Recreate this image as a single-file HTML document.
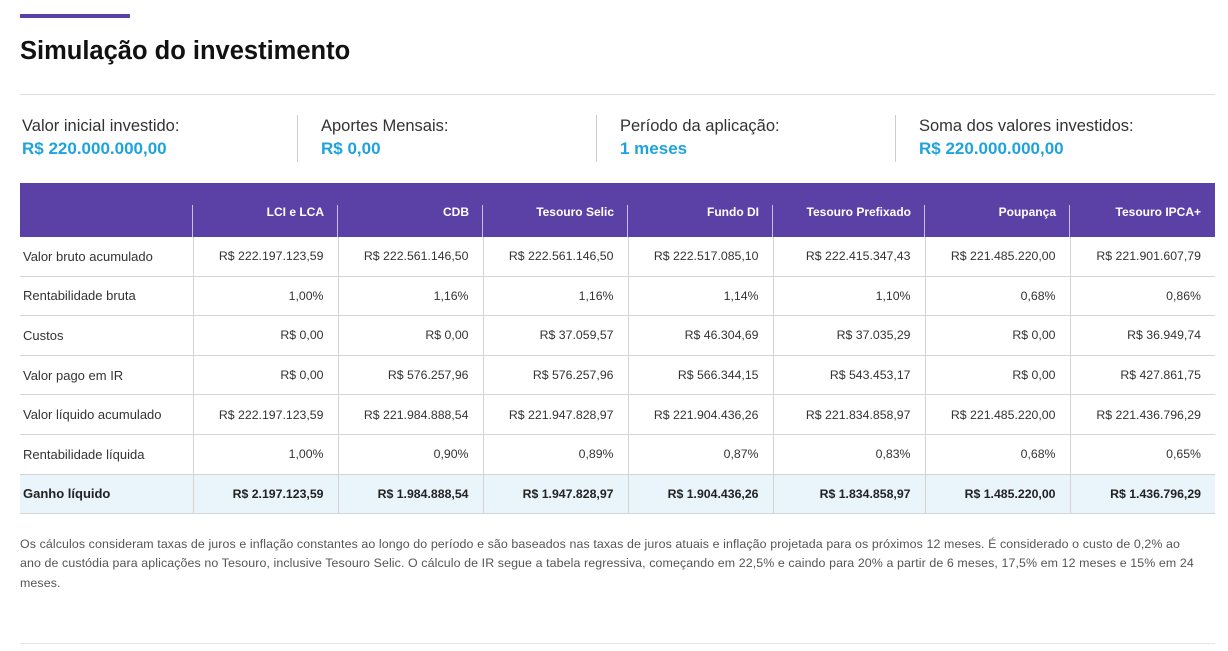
<!DOCTYPE html>
<html><head><meta charset="utf-8"><style>
body{margin:0;width:1228px;height:651px;background:#fff;font-family:"Liberation Sans",sans-serif;position:relative;overflow:hidden;color:#222}
.abs{position:absolute}
table{position:absolute;left:20px;top:183px;border-collapse:collapse;table-layout:fixed;width:1195px}
th{background:#5b41a6;color:#fff;font-size:12px;font-weight:bold;text-align:right;padding:4px 14px 0 0;height:50px;position:relative}
th .sep{position:absolute;left:-1px;top:22px;bottom:0;width:1px;background:#c9bfe6}
th:first-child .sep{display:none}
td{font-size:12.3px;text-align:right;padding:0 14px 0 0;border-bottom:1px solid #d4d4d4;border-left:1px solid #d4d4d4;color:#333;height:38.6px}
td:first-child{text-align:left;border-left:none;padding-left:3px;font-size:13px}
tr.last td{background:#eaf5fb;font-weight:bold;color:#222}
.lbl{font-size:16.5px;color:#333}
.val{font-size:17px;font-weight:bold;color:#1fa3dc;margin-top:3px}
.box{position:absolute;top:117px}
.vs{position:absolute;top:115px;width:1px;height:47px;background:#ccc}
</style></head><body>
<div class="abs" style="left:20px;top:14px;width:110px;height:4px;background:#5b41a6"></div>
<div class="abs" style="left:20px;top:37px;font-size:25.5px;font-weight:bold;color:#111">Simulação do investimento</div>
<div class="abs" style="left:20px;top:94px;width:1195px;height:1px;background:#ddd"></div>
<div class="box" style="left:22px"><div class="lbl">Valor inicial investido:</div><div class="val">R$ 220.000.000,00</div></div>
<div class="vs" style="left:297px"></div>
<div class="box" style="left:321px"><div class="lbl">Aportes Mensais:</div><div class="val">R$ 0,00</div></div>
<div class="vs" style="left:596px"></div>
<div class="box" style="left:620px"><div class="lbl">Período da aplicação:</div><div class="val">1 meses</div></div>
<div class="vs" style="left:895px"></div>
<div class="box" style="left:919px"><div class="lbl">Soma dos valores investidos:</div><div class="val">R$ 220.000.000,00</div></div>
<table>
<colgroup><col style="width:173px"><col style="width:145px"><col style="width:145px"><col style="width:145px"><col style="width:145px"><col style="width:152px"><col style="width:145px"><col style="width:145px"></colgroup>
<thead><tr>
<th><span class="sep"></span></th>
<th><span class="sep"></span>LCI e LCA</th>
<th><span class="sep"></span>CDB</th>
<th><span class="sep"></span>Tesouro Selic</th>
<th><span class="sep"></span>Fundo DI</th>
<th><span class="sep"></span>Tesouro Prefixado</th>
<th><span class="sep"></span>Poupança</th>
<th><span class="sep"></span>Tesouro IPCA+</th>
</tr></thead>
<tbody>
<tr><td>Valor bruto acumulado</td><td>R$ 222.197.123,59</td><td>R$ 222.561.146,50</td><td>R$ 222.561.146,50</td><td>R$ 222.517.085,10</td><td>R$ 222.415.347,43</td><td>R$ 221.485.220,00</td><td>R$ 221.901.607,79</td></tr>
<tr><td>Rentabilidade bruta</td><td>1,00%</td><td>1,16%</td><td>1,16%</td><td>1,14%</td><td>1,10%</td><td>0,68%</td><td>0,86%</td></tr>
<tr><td>Custos</td><td>R$ 0,00</td><td>R$ 0,00</td><td>R$ 37.059,57</td><td>R$ 46.304,69</td><td>R$ 37.035,29</td><td>R$ 0,00</td><td>R$ 36.949,74</td></tr>
<tr><td>Valor pago em IR</td><td>R$ 0,00</td><td>R$ 576.257,96</td><td>R$ 576.257,96</td><td>R$ 566.344,15</td><td>R$ 543.453,17</td><td>R$ 0,00</td><td>R$ 427.861,75</td></tr>
<tr><td>Valor líquido acumulado</td><td>R$ 222.197.123,59</td><td>R$ 221.984.888,54</td><td>R$ 221.947.828,97</td><td>R$ 221.904.436,26</td><td>R$ 221.834.858,97</td><td>R$ 221.485.220,00</td><td>R$ 221.436.796,29</td></tr>
<tr><td>Rentabilidade líquida</td><td>1,00%</td><td>0,90%</td><td>0,89%</td><td>0,87%</td><td>0,83%</td><td>0,68%</td><td>0,65%</td></tr>
<tr class="last"><td>Ganho líquido</td><td>R$ 2.197.123,59</td><td>R$ 1.984.888,54</td><td>R$ 1.947.828,97</td><td>R$ 1.904.436,26</td><td>R$ 1.834.858,97</td><td>R$ 1.485.220,00</td><td>R$ 1.436.796,29</td></tr>
</tbody></table>
<div class="abs" style="left:20px;top:535px;width:1190px;font-size:12.4px;letter-spacing:0.1px;line-height:19.3px;color:#555">Os cálculos consideram taxas de juros e inflação constantes ao longo do período e são baseados nas taxas de juros atuais e inflação projetada para os próximos 12 meses. É considerado o custo de 0,2% ao<br>ano de custódia para aplicações no Tesouro, inclusive Tesouro Selic. O cálculo de IR segue a tabela regressiva, começando em 22,5% e caindo para 20% a partir de 6 meses, 17,5% em 12 meses e 15% em 24<br>meses.</div>
<div class="abs" style="left:20px;top:643px;width:1195px;height:1px;background:#e5e5e5"></div>
</body></html>
